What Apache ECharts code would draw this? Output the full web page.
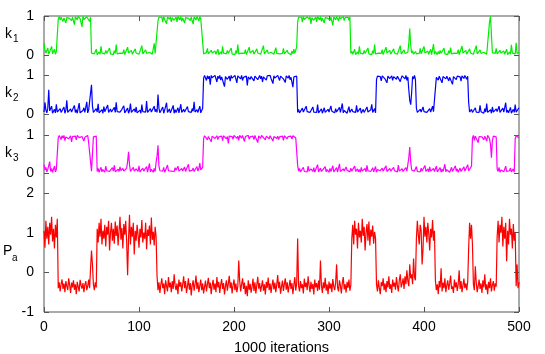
<!DOCTYPE html>
<html><head><meta charset="utf-8">
<script src="https://cdn.jsdelivr.net/npm/echarts@6/dist/echarts.min.js"></script>
<style>html,body{margin:0;padding:0;background:#fff}#c{width:545px;height:354px}</style>
</head><body><div id="c"></div>
<script>
// x = iteration index (in units of 1000 iterations), one value per unit 0..500
const xTicks = [0,100,200,300,400,500];
const kTicks = [0,1];
const paTicks = [-1,0,1,2];
const panelLabels = ["k","k","k","P"];
const panelSubs = ["1","2","3","a"];
const xTitle = "1000 iterations";

const k1 = [
.30,.12,.05,.03,.18,.02,.08,.04,.22,.03,.06,.15,.02,.09,.04,
.92,.99,.90,.97,.99,.86,.95,.98,.82,.96,.93,.99,.94,.99,.88,.97,.92,.78,.98,.95,.90,.99,.99,.93,.97,.72,.99,.91,.96,.88,.98,.95,.99,.86,.97,
.05,.02,.10,.03,.06,.15,.01,.04,.08,.02,.22,.05,.01,.09,.03,.12,.04,.02,.07,.18,.03,.02,.06,.01,.11,.04,.27,.03,.08,.02,.05,.09,.02,.04,.14,.01,.06,.03,.20,.05,.02,.04,.12,.02,.07,.01,.16,.05,.03,.10,.02,.01,.05,.24,.03,.08,.02,.13,.04,.06,.01,.07,.03,.11,.02,.05,.30,.04,.01,.09,
.88,.97,.99,.93,.97,.84,.99,.91,.96,.80,.98,.95,.92,.98,.85,.96,.99,.89,.94,.97,.85,.99,.97,.90,.99,.86,.95,.98,.82,.96,.93,.99,.94,.99,.88,.97,.92,.79,.98,.95,.90,.99,.96,.87,.99,.93,.97,.91,
.03,.08,.02,.06,.17,.03,.06,.01,.12,.05,.02,.03,.10,.02,.06,.15,.01,.04,.08,.02,.22,.05,.01,.09,.03,.12,.04,.02,.07,.18,.03,.02,.06,.01,.11,.04,.27,.03,.08,.02,.05,.09,.02,.04,.14,.01,.06,.03,.20,.05,.02,.04,.12,.02,.07,.01,.16,.05,.03,.10,.02,.01,.05,.24,.03,.08,.02,.13,.04,.06,.01,.07,.03,.11,.02,.05,.19,.04,.01,.09,.03,.02,.08,.04,.17,.03,.06,.01,.12,.05,.02,.06,.01,.10,.03,.15,.04,.02,.21,
.85,.97,.99,.93,.97,.84,.99,.91,.96,.88,.98,.95,.92,.98,.80,.96,.99,.89,.94,.97,.85,.99,.97,.90,.99,.86,.95,.98,.82,.96,.93,.99,.94,.99,.88,.97,.92,.76,.98,.95,.90,.99,.96,.87,.99,.93,.97,.91,.99,.88,.96,.99,.92,.97,.89,.98,
.04,.10,.02,.06,.15,.01,.04,.08,.02,.22,.05,.01,.09,.03,.12,.04,.02,.07,.18,.03,.02,.06,.01,.11,.04,.27,.03,.08,.02,.05,.09,.02,.04,.14,.01,.06,.03,.20,.05,.02,.04,.12,.02,.07,.01,.16,.05,.03,.10,.02,.01,.05,.24,.03,.08,.02,.13,.04,.06,.01,
.07,.30,.68,.25,.05,.11,.02,.05,.09,.03,.02,.08,.04,.17,.03,.06,.01,.22,.05,.02,.03,.10,.02,.06,.15,.01,.04,.28,.02,.09,.05,.01,.09,.03,.12,.04,.02,.07,.18,.03,.02,.06,.01,.11,.04,.19,.03,.08,.02,.05,.09,.02,.04,.14,.01,.06,.03,.23,.05,.02,.04,.12,.02,.07,.01,.16,.05,.03,.10,.02,.01,.05,.24,.03,.08,.02,.13,.04,.06,.01,
.07,.03,.11,.02,.05,.04,.85,.99,.97,.06,.02,.08,.04,.17,.03,.06,.01,.12,.05,.02,.03,.10,.02,.06,.15,.01,.04,.08,.02,.26,.05,.01,.09,.03,.31,.04,.02,.07
];

const k2 = [
.05,.30,.10,.03,.15,.62,.08,.04,.20,.02,.06,.12,.03,.25,.05,.02,.09,.14,.04,.07,.03,.18,.02,.10,.35,.04,.06,.02,.13,.05,.08,.03,.22,.04,.11,.02,.07,.28,.03,.05,.02,.09,.16,.04,.06,.31,.03,.10,.05,.12,
.75,.20,.04,.08,.02,.14,.05,.26,.03,.07,.04,.11,.02,.19,.06,.03,.09,.23,.04,.02,.13,.05,.08,.02,.17,.04,.30,.06,.03,.10,.05,.02,.12,.07,.21,.03,.08,.04,.15,.02,.09,.27,.04,.06,.02,.13,.05,.18,.03,.07,
.04,.10,.02,.24,.06,.03,.11,.05,.33,.04,.08,.02,.14,.05,.09,.03,.20,.06,.12,.04,.50,.15,.03,.08,.05,.18,.02,.10,.06,.29,.04,.07,.13,.03,.09,.05,.22,.02,.11,.04,.06,.16,.03,.08,.25,.04,.02,.12,.05,.09,
.03,.19,.06,.02,.10,.04,.14,.07,.31,.05,.02,.11,.04,.08,.20,.03,.06,.15,
.92,.99,.95,.86,.98,.90,.97,.75,.99,.93,.96,.88,.99,.94,.82,.97,.91,.99,.87,.95,.98,.93,.70,.96,.99,.89,.94,.97,.84,.99,.92,.97,.88,.99,.95,.80,.98,.93,.96,.90,.99,.86,.94,.98,.91,.97,.73,.95,.99,.89,
.96,.92,.99,.85,.97,.94,.98,.88,.93,.99,.90,.97,.82,.95,.99,.93,.87,.98,.94,.96,.99,.91,.96,.78,.98,.92,.97,.89,.99,.94,.86,.97,.93,.99,.90,.95,.81,.98,.96,.92,.99,.88,.94,.97,.69,.95,.99,.91,.97,
.04,.12,.03,.08,.02,.15,.05,.09,.03,.20,.06,.02,.11,.04,.07,.03,.18,.05,.02,.10,.04,.24,.03,.08,.05,.13,.02,.06,.16,.04,.09,.03,.12,.05,.02,.21,.07,.04,.10,.03,.14,.05,.08,.02,.17,.04,.06,.27,.03,.09,
.05,.11,.02,.07,.19,.04,.03,.13,.06,.02,.10,.04,.22,.05,.08,.03,.15,.02,.06,.12,.04,.09,.03,.18,.05,.07,.02,.11,.25,.04,.06,.14,.03,
.88,.97,.99,.92,.96,.85,.98,.93,.99,.90,.95,.80,.97,.99,.91,.94,.98,.86,.96,.99,.93,.89,.97,.95,.99,.83,.92,.98,.94,.97,.90,.99,.86,.95,
.62,.35,.24,.55,.96,.90,.99,.88,
.15,.04,.09,.02,.12,.05,.03,.18,.06,.02,.10,.04,.07,.03,.14,.05,.02,.20,.06,.03,.09,
.94,.99,.87,.97,.92,.99,.80,.96,.93,.98,.90,.97,.99,.85,.94,.98,.91,.76,.96,.99,.93,.88,.97,.99,.92,.95,.84,.98,.96,.91,.99,.94,.89,.97,
.30,.05,.02,.12,.04,.08,.03,.16,.05,.02,.10,.04,.22,.06,.03,.09,.02,.14,.05,.27,.04,.07,.03,.11,.02,.18,.05,.08,.03,.13,.06,.02,.20,.04,.09,.03,.15,.05,.02,.29,.04,.10,.03,.07,.17,.02,.06,.12,.04,.24,.05,.09,.03,.16
];

const k3 = [
.22,.08,.15,.03,.10,.05,.30,.04,.12,.02,.07,.18,.03,.09,.05,
.93,.99,.96,.88,.98,.92,.99,.85,.95,.97,.99,.90,.94,.98,.82,.96,.99,.91,.97,.87,.99,.95,.93,.98,.89,.96,.99,.84,.94,.97,.91,.99,
.80,.55,.30,.05,.50,.95,.99,.90,.97,
.04,.12,.02,.07,.15,.03,.09,.05,.02,.18,.06,.03,.11,.04,.08,.02,.14,.05,.20,.03,.07,.02,.10,.04,.16,.06,.03,.12,.05,.09,.02,.13,.30,.56,.22,.04,.08,.03,.15,.05,
.02,.11,.06,.04,.19,.03,.08,.02,.13,.05,.09,.04,.17,.02,.07,.25,.03,.10,.05,.02,.12,.04,.28,.45,.73,.18,.06,.03,.09,.05,.15,.02,.08,.04,.21,.06,.03,.11,.05,.02,
.10,.04,.14,.07,.02,.18,.05,.09,.03,.12,.06,.02,.16,.04,.08,.03,.23,.05,.10,.02,.07,.13,.04,.09,.02,.17,.05,.11,.26,.08,.04,.15,
.90,.98,.95,.99,.87,.96,.93,.99,.82,.97,.94,.99,.91,.96,.98,.88,.95,.99,.92,.97,.85,.98,.94,.99,.90,.96,.78,.97,.99,.93,.96,.89,.99,.94,.98,.91,.97,.86,.99,.95,
.92,.99,.97,.83,.96,.98,.93,.99,.89,.95,.99,.94,.97,.88,.99,.92,.96,.80,.98,.95,.91,.99,.96,.93,.98,.87,.97,.99,.94,.90,.98,.95,.99,.84,.96,.93,.99,.91,.97,.88,
.95,.99,.92,.97,.86,.98,.94,.99,.90,.96,.99,.93,.97,.89,.98,.95,.99,.92,.96,
.20,.05,.12,.03,.08,.02,.15,.04,.09,.06,.03,.18,.05,.02,.11,.07,.04,.14,.02,.09,.05,.22,.03,.08,.13,.04,.02,.10,.06,.17,.03,.09,.05,.02,.12,.04,.07,.19,.03,.08,
.05,.14,.02,.06,.24,.04,.09,.03,.11,.05,.02,.16,.07,.04,.10,.03,.13,.05,.08,.02,.18,.04,.06,.11,.03,.09,.02,.15,.05,.07,.04,.12,.03,.20,.06,.02,.10,.04,.08,.14,
.03,.05,.17,.02,.09,.04,.11,.06,.03,.13,.05,.08,.02,.19,.04,.07,.03,.12,.05,.10,.02,.15,.06,.04,.09,.03,.21,.05,.08,.02,.11,.04,.07,.03,.14,.05,.10,.40,.68,.30,
.08,.03,.12,.05,.02,.17,.04,.09,.06,.03,.13,.05,.08,.02,.20,.04,.07,.11,.03,.16,.05,.09,.02,.12,.04,.06,.18,.03,.08,.05,.14,.02,.10,.04,.07,.23,.03,.09,.05,.12,
.02,.06,.15,.04,.08,.03,.19,.05,.11,.02,.07,.13,.04,.09,.03,.16,.05,.08,.02,.22,.06,.04,.11,.18,
.92,.99,.86,.97,.94,.99,.80,.96,.98,.91,.95,.99,.88,.97,.93,.84,.99,.96,.90,.75,.40,.85,.97,.93,.99,.95,
.10,.04,.15,.02,.08,.05,.12,.03,.07,.18,.04,.02,.09,.06,.13,.03,.05,.11,.02,
.90,.98,.95,.99,.93
];

const pa = [
1.05,.62,1.30,.85,1.15,.70,1.25,.95,1.40,.78,1.10,.60,1.20,.88,1.35,
-.40,-.25,-.48,-.30,-.18,-.42,-.28,-.50,-.22,-.35,-.45,-.15,-.32,-.52,-.26,-.38,-.20,-.44,-.30,-.55,-.24,-.36,-.48,-.19,-.33,-.41,-.27,-.50,-.31,-.22,-.45,-.35,-.18,-.40,.10,.55,.20,-.30,-.45,-.25,-.38,
1.10,.75,1.25,.90,1.35,.70,1.05,.85,1.20,.65,1.15,.95,1.30,.55,1.00,1.25,.80,1.10,.72,1.28,.92,1.18,.68,1.05,1.40,.82,1.12,.60,1.22,.95,1.30,.78,-.07,.85,1.45,.70,1.15,.90,1.25,.45,
1.05,.80,1.20,.95,.62,1.10,.88,1.32,.75,1.00,.85,1.25,.58,1.08,.92,1.18,.70,1.38,.82,1.02,.68,1.15,.90,
-.10,-.45,-.25,-.52,-.30,-.15,-.40,-.28,-.55,-.20,-.35,-.48,-.12,-.38,-.26,-.50,-.22,-.42,-.05,-.33,-.45,-.28,-.55,-.18,-.36,-.25,-.48,-.30,-.10,-.40,
-.22,-.52,-.35,-.15,-.44,-.27,-.58,-.32,-.20,-.46,-.30,-.08,-.42,-.25,-.50,-.34,-.18,-.45,-.28,-.53,-.36,-.21,-.48,-.30,-.14,-.40,-.26,-.55,-.33,-.19,
-.44,-.28,-.50,-.12,-.38,-.24,-.52,-.31,-.17,-.42,-.27,-.56,-.35,-.20,-.46,-.29,-.09,-.40,-.25,-.53,-.32,-.18,-.45,-.28,-.50,-.36,.30,-.22,-.48,-.30,
-.15,-.42,-.26,-.55,-.34,-.60,-.20,-.44,-.29,-.51,-.37,-.16,-.47,-.25,-.53,-.32,-.11,-.41,-.27,-.49,-.35,-.20,-.46,-.30,-.56,-.24,-.39,-.13,-.45,-.28,
-.52,-.33,-.18,-.43,-.26,-.50,-.31,-.07,-.40,-.24,-.54,-.36,-.21,-.47,-.29,-.15,-.44,-.25,-.51,-.34,-.19,-.42,-.27,-.55,-.32,-.12,-.46,-.28,.85,-.35,
-.48,-.22,-.40,-.30,-.53,-.16,-.37,-.26,-.45,-.10,-.33,-.50,-.24,-.42,-.29,-.56,-.18,-.38,-.27,-.47,-.21,-.44,.30,-.32,-.52,-.25,-.40,-.14,-.46,-.30,
-.55,-.23,-.41,-.28,-.50,-.17,-.36,-.45,-.26,.20,-.38,-.48,-.20,-.33,-.53,-.27,-.12,-.43,-.30,-.51,-.24,-.39,-.18,-.46,-.32,
.85,1.20,.70,1.30,.95,1.10,.60,1.25,.88,1.05,.75,1.35,.92,1.15,.55,1.00,1.22,.80,1.28,.68,1.08,.90,1.18,.72,1.02,.85,
-.30,-.48,-.20,-.40,-.55,-.25,-.35,-.15,-.45,-.28,-.50,-.22,-.38,-.10,-.42,-.30,-.52,-.18,-.36,-.26,-.44,-.12,-.33,-.48,-.20,-.05,-.38,-.28,-.15,-.42,-.10,-.30,.05,-.22,-.35,.20,-.15,-.05,-.30,.35,-.12,-.20,
.85,1.30,.95,.70,1.20,1.05,.20,.60,1.40,.90,1.15,.75,1.25,.98,.55,1.10,.88,1.32,.80,1.05,
-.20,-.45,-.30,-.55,-.22,-.38,.10,-.48,-.26,-.40,-.15,-.50,-.32,-.20,-.44,-.28,-.08,-.42,-.35,-.52,-.18,-.38,-.25,-.47,-.30,.05,-.42,-.22,-.50,-.33,-.16,-.40,-.28,-.45,-.24,
.60,1.25,.85,1.20,.70,
-.30,-.45,.15,-.25,-.50,-.35,-.18,-.42,-.28,-.52,-.20,-.38,-.05,-.44,-.30,-.55,-.24,-.40,-.15,-.48,-.32,-.22,-.46,-.28,-.36,
.90,1.30,.75,1.20,1.00,1.40,.65,1.15,.85,1.25,.28,1.05,.70,1.35,.95,1.10,.60,1.22,.80,1.00,
-.35,.20,-.40,-.25
];

const seriesValues = [k1, k2, k3, pa];
const colors = ['#00ee00', '#0000ff', '#ff00ff', '#ff0000'];
const FONT = '"Liberation Sans", Arial, Helvetica, sans-serif';
const AXC = '#555';

const L = 44, R = 26;
const panels = [
  {top: 16, height: 39},
  {top: 75, height: 39},
  {top: 135, height: 38},
  {top: 193, height: 119}
];

const grid = [{left: L, right: R, top: 16, bottom: 42, show: true, borderColor: AXC, borderWidth: 1,
  backgroundColor: 'transparent', outerBoundsMode: 'none', containLabel: false}];
const xAxis = [
  {gridIndex: 0, type: 'value', min: xTicks[0], max: xTicks[xTicks.length-1], interval: 100, position: 'bottom',
   axisLine: {show: false, onZero: false}, splitLine: {show: false},
   axisTick: {show: true, inside: true, length: 5, lineStyle: {color: AXC}},
   axisLabel: {color: '#000', fontSize: 14, fontFamily: FONT, margin: 8},
   name: xTitle, nameLocation: 'middle', nameGap: 28, nameTextStyle: {color: '#000', fontSize: 14.5, fontFamily: FONT}},
  {gridIndex: 0, type: 'value', min: 0, max: 500, interval: 100, position: 'top',
   axisLine: {show: false, onZero: false}, splitLine: {show: false}, axisLabel: {show: false},
   axisTick: {show: true, inside: true, length: 5, lineStyle: {color: AXC}}}
];
const yAxis = [{gridIndex: 0, type: 'value', min: 0, max: 1, show: false}];
const series = [];

panels.forEach((p, i) => {
  const gi = i + 1;
  grid.push({left: L, right: R, top: p.top, height: p.height, outerBoundsMode: 'none', containLabel: false});
  xAxis.push({gridIndex: gi, type: 'value', min: 0, max: 500, show: false});
  const ticks = i < 3 ? kTicks : paTicks;
  const yl = yAxis.length;
  yAxis.push({gridIndex: gi, type: 'value', min: ticks[0], max: ticks[ticks.length-1], interval: 1, position: 'left',
    axisLine: {show: false, onZero: false}, splitLine: {show: false},
    axisTick: {show: true, inside: true, length: 5, lineStyle: {color: AXC}},
    axisLabel: {color: '#000', fontSize: 14, fontFamily: FONT, margin: 10}});
  yAxis.push({gridIndex: gi, type: 'value', min: ticks[0], max: ticks[ticks.length-1], interval: 1, position: 'right',
    axisLine: {show: false, onZero: false}, splitLine: {show: false}, axisLabel: {show: false},
    axisTick: {show: true, inside: true, length: 5, lineStyle: {color: AXC}}});
  series.push({type: 'line', xAxisIndex: xAxis.length - 1, yAxisIndex: yl,
    data: seriesValues[i].map((v, j) => [j, v]),
    showSymbol: false, symbol: 'none', animation: false,
    lineStyle: {color: colors[i], width: 1.2}});
});

// panel labels: main letter + subscript
const labelPos = [
  {x: 5, y: 34, sx: 13, sy: 39},
  {x: 5, y: 93, sx: 13, sy: 98},
  {x: 5, y: 153, sx: 13, sy: 158},
  {x: 3, y: 251, sx: 12, sy: 258}
];
const graphic = [];
labelPos.forEach((p, i) => {
  graphic.push({type: 'text', x: p.x, y: p.y, style: {text: panelLabels[i], font: '14px ' + FONT, fill: '#000', verticalAlign: 'middle', align: 'left'}});
  graphic.push({type: 'text', x: p.sx, y: p.sy, style: {text: panelSubs[i], font: '10px ' + FONT, fill: '#000', verticalAlign: 'middle', align: 'left'}});
});

const chart = echarts.init(document.getElementById('c'), null, {renderer: 'canvas'});
chart.setOption({animation: false, grid, xAxis, yAxis, series, graphic});
</script>
</body></html>
